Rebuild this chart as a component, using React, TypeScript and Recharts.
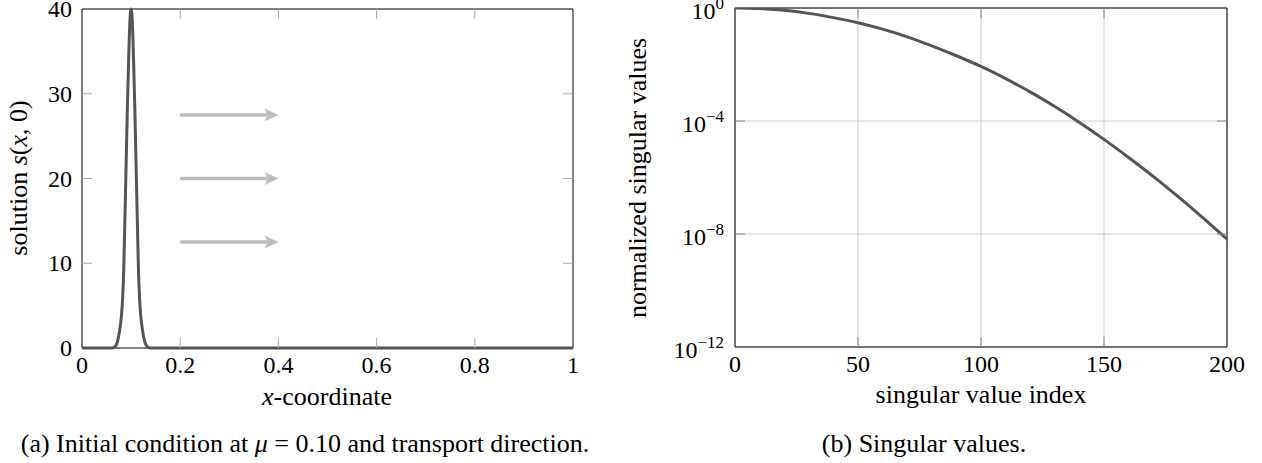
import React from "react";
import { LineChart, Line, XAxis, YAxis, CartesianGrid, ReferenceArea, ReferenceLine } from "recharts";

const FONT = "'Liberation Serif', 'Times New Roman', serif";
const CURVE = "#555555";
const ARROW = "#bdbdbd";

// (a) initial condition s(x, 0)
const xCoord = [0, 0.062, 0.067, 0.072, 0.077, 0.08, 0.0825, 0.085, 0.0875, 0.09, 0.0925, 0.095, 0.0975, 0.1,
    0.1025, 0.105, 0.1075, 0.11, 0.1125, 0.115, 0.1175, 0.12, 0.123, 0.128, 0.133, 0.138, 1];
const solution = [0, 0, 0.15, 0.7, 2.2, 3.6, 5.6, 9.2, 15.5, 22, 28.5, 34, 38.5, 40,
    38.5, 34, 28.5, 22, 15.5, 9.2, 5.6, 3.6, 2.2, 0.7, 0.15, 0, 0];
const xTicksA = [0, 0.2, 0.4, 0.6, 0.8, 1];
const yTicksA = [0, 10, 20, 30, 40];
const arrowLevels = [27.5, 20, 12.5];
const arrowFrom = 0.2;
const arrowTo = 0.4;

// (b) singular values
const svIndex = [0, 10, 20, 30, 40, 50, 60, 70, 80, 90, 100, 110, 120, 130, 140, 150, 160, 170, 180, 190, 200];
const svValue = [1, 0.955, 0.832, 0.646, 0.457, 0.302, 0.178, 0.0955, 0.0457, 0.0204, 0.00851, 0.00316, 0.00107,
    3.24e-4, 8.91e-5, 2.24e-5, 5.13e-6, 1.1e-6, 2.14e-7, 3.89e-8, 6.61e-9];
const xTicksB = [0, 50, 100, 150, 200];
const yTicksB = [1, 1e-4, 1e-8, 1e-12];

const dataA = xCoord.map((x, i) => ({ x, s: solution[i] }));
const dataB = svIndex.map((i, k) => ({ i, v: svValue[k] }));

// plot boxes in each svg's own coordinates
const A = { left: 82, top: 9, right: 573, bottom: 348 };
const B = { left: 115, top: 8, right: 607, bottom: 347 };

const txt = { fontFamily: FONT, fontSize: 24, fill: "#000" };

const ArrowShape = (p: any) => {
    const { x1, y1, x2, y2 } = p;
    return (
        <g>
            <line x1={x1} y1={y1} x2={x2 - 8} y2={y2} stroke={ARROW} strokeWidth={3.5} />
            <path d={`M${x2},${y2} L${x2 - 14},${y2 - 6.5} Q${x2 - 9},${y2} ${x2 - 14},${y2 + 6.5} Z`} fill={ARROW} />
        </g>
    );
};

const XTickA = ({ x, payload }: any) => {
    const v = payload.value;
    const inner = v !== xTicksA[0] && v !== xTicksA[xTicksA.length - 1];
    return (
        <g>
            {inner && <line x1={x} x2={x} y1={A.bottom} y2={A.bottom - 10} stroke="#aaa" />}
            {inner && <line x1={x} x2={x} y1={A.top} y2={A.top + 10} stroke="#aaa" />}
            <text x={x} y={373} textAnchor="middle" style={txt}>{String(v)}</text>
        </g>
    );
};

const YTickA = ({ y, payload }: any) => {
    const v = payload.value;
    const inner = v !== yTicksA[0] && v !== yTicksA[yTicksA.length - 1];
    return (
        <g>
            {inner && <line x1={A.left} x2={A.left + 10} y1={y} y2={y} stroke="#aaa" />}
            {inner && <line x1={A.right} x2={A.right - 10} y1={y} y2={y} stroke="#aaa" />}
            <text x={A.left - 10} y={y + 8} textAnchor="end" style={txt}>{String(v)}</text>
        </g>
    );
};

const XTickB = ({ x, payload }: any) => {
    const v = payload.value;
    const inner = v !== xTicksB[0] && v !== xTicksB[xTicksB.length - 1];
    return (
        <g>
            {inner && <line x1={x} x2={x} y1={B.bottom} y2={B.bottom - 10} stroke="#888" />}
            {inner && <line x1={x} x2={x} y1={B.top} y2={B.top + 10} stroke="#888" />}
            <text x={x} y={372} textAnchor="middle" style={txt}>{String(v)}</text>
        </g>
    );
};

const YTickB = ({ y, payload }: any) => {
    const v = payload.value;
    const e = Math.round(Math.log10(v));
    const inner = v !== 1 && v !== 1e-12;
    return (
        <g>
            {inner && <line x1={B.left} x2={B.left + 10} y1={y} y2={y} stroke="#888" />}
            {inner && <line x1={B.right} x2={B.right - 10} y1={y} y2={y} stroke="#888" />}
            <text x={B.left - 11} y={y + 11} textAnchor="end" style={txt}>
                10<tspan dy={-10} style={{ fontSize: 17 }}>{e < 0 ? "\u2212" + Math.abs(e) : String(e)}</tspan>
            </text>
        </g>
    );
};

const abs = (extra: React.CSSProperties): React.CSSProperties => ({
    position: "absolute",
    fontFamily: FONT,
    fontSize: 26,
    lineHeight: "26px",
    whiteSpace: "nowrap",
    color: "#000",
    ...extra,
});

export default function App() {
    return (
        <div style={{ position: "absolute", left: 0, top: 0, width: 1262, height: 463, background: "#fff" }}>
            <div style={{ position: "absolute", left: 0, top: 0 }}>
                <LineChart width={640} height={463} data={dataA}
                    margin={{ top: A.top, left: A.left - 60, right: 640 - A.right, bottom: 463 - A.bottom - 30 }}>
                    <XAxis dataKey="x" type="number" domain={[0, 1]} ticks={xTicksA} height={30}
                        axisLine={false} tickLine={false} tick={<XTickA />} interval={0} />
                    <YAxis type="number" domain={[0, 40]} ticks={yTicksA} width={60}
                        axisLine={false} tickLine={false} tick={<YTickA />} interval={0} />
                    <ReferenceArea x1={0} x2={1} y1={0} y2={40} fill="none" stroke="#000" strokeWidth={1} fillOpacity={0} />
                    {arrowLevels.map((lv) => (
                        <ReferenceLine key={lv} segment={[{ x: arrowFrom, y: lv }, { x: arrowTo, y: lv }]} shape={ArrowShape} />
                    ))}
                    <Line dataKey="s" type="monotone" stroke={CURVE} strokeWidth={3} dot={false} isAnimationActive={false} />
                </LineChart>
            </div>
            <div style={{ position: "absolute", left: 620, top: 0 }}>
                <LineChart width={642} height={463} data={dataB}
                    margin={{ top: B.top, left: B.left - 60, right: 642 - B.right, bottom: 463 - B.bottom - 30 }}>
                    <CartesianGrid stroke="#cccccc" />
                    <XAxis dataKey="i" type="number" domain={[0, 200]} ticks={xTicksB} height={30}
                        axisLine={false} tickLine={false} tick={<XTickB />} interval={0} />
                    <YAxis type="number" scale="log" domain={[1e-12, 1]} ticks={yTicksB} width={60} allowDataOverflow
                        axisLine={false} tickLine={false} tick={<YTickB />} interval={0} />
                    <ReferenceArea x1={0} x2={200} y1={1e-12} y2={1} fill="none" stroke="#000" strokeWidth={1} fillOpacity={0} />
                    <Line dataKey="v" type="monotone" stroke={CURVE} strokeWidth={3} dot={false} isAnimationActive={false} />
                </LineChart>
            </div>

            <div style={abs({ left: 19, top: 178, transform: "translate(-50%, -50%) rotate(-90deg)" })}>
                solution <i>s</i>(<i>x</i>, 0)
            </div>
            <div style={abs({ left: 327, top: 384, transform: "translateX(-50%)" })}>
                <i>x</i>-coordinate
            </div>
            <div style={abs({ left: 305, top: 431, transform: "translateX(-50%)" })}>
                (a) Initial condition at <i>μ</i> = 0.10 and transport direction.
            </div>

            <div style={abs({ left: 638, top: 178, transform: "translate(-50%, -50%) rotate(-90deg)" })}>
                normalized singular values
            </div>
            <div style={abs({ left: 981, top: 382, transform: "translateX(-50%)" })}>
                singular value index
            </div>
            <div style={abs({ left: 924, top: 431, transform: "translateX(-50%)" })}>
                (b) Singular values.
            </div>
        </div>
    );
}
